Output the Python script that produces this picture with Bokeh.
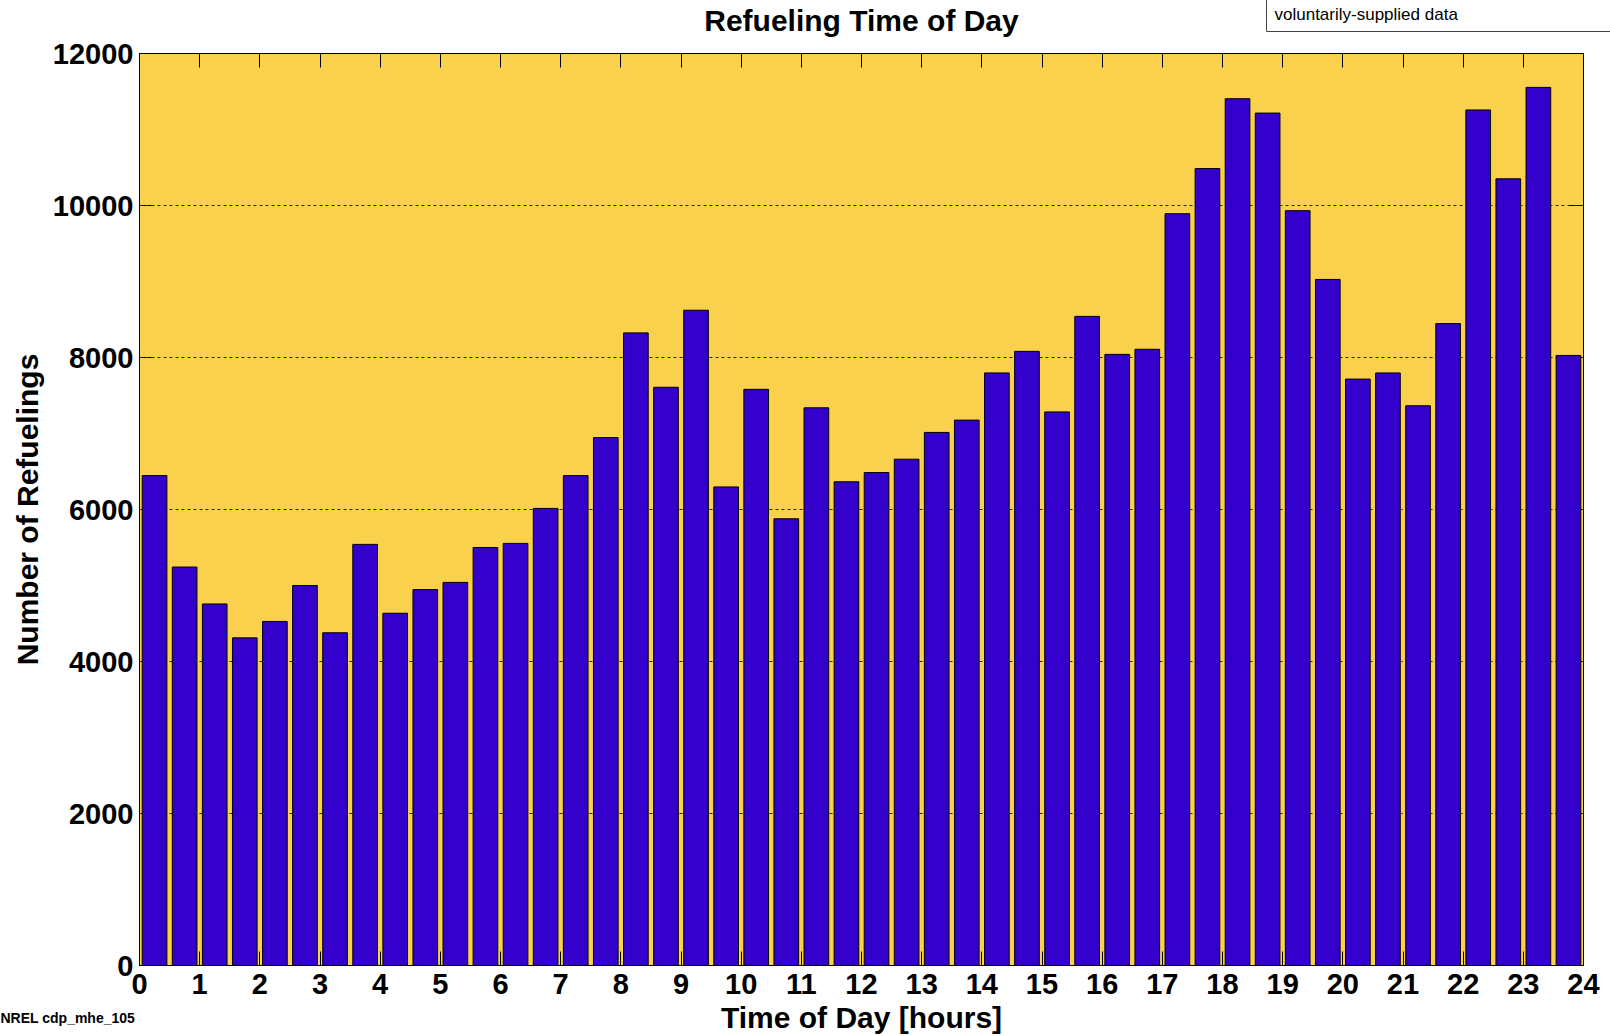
from bokeh.plotting import figure
from bokeh.models import LinearAxis, FixedTicker, Range1d, Title
from bokeh.embed import file_html
from bokeh.resources import INLINE

# ---- data ----
hour_bins = [0.25, 0.75, 1.25, 1.75, 2.25, 2.75, 3.25, 3.75, 4.25, 4.75, 5.25, 5.75,
             6.25, 6.75, 7.25, 7.75, 8.25, 8.75, 9.25, 9.75, 10.25, 10.75, 11.25, 11.75,
             12.25, 12.75, 13.25, 13.75, 14.25, 14.75, 15.25, 15.75, 16.25, 16.75, 17.25, 17.75,
             18.25, 18.75, 19.25, 19.75, 20.25, 20.75, 21.25, 21.75, 22.25, 22.75, 23.25, 23.75]
refuelings = [6446, 5243, 4757, 4311, 4527, 5000, 4378, 5541, 4635, 4946, 5041, 5500,
              5554, 6014, 6446, 6946, 8324, 7608, 8622, 6297, 7581, 5878, 7338, 6365,
              6486, 6662, 7014, 7176, 7797, 8081, 7284, 8541, 8041, 8108, 9892, 10486,
              11405, 11216, 9932, 9027, 7716, 7797, 7365, 8446, 11257, 10351, 11554, 8027]
x_ticks = list(range(0, 25))
y_ticks = [0, 2000, 4000, 6000, 8000, 10000, 12000]
title_text = "Refueling Time of Day"
x_label = "Time of Day [hours]"
y_label = "Number of Refuelings"
note_text = "voluntarily-supplied data"
id_text = "NREL cdp_mhe_105"

FONT = "Liberation Sans"
W, H = 1610, 1036
ML, MR, MT, MB = 139, 27, 53, 71

p = figure(width=W, height=H, x_range=Range1d(0, 24), y_range=Range1d(0, 12000),
           output_backend="svg", toolbar_location=None,
           min_border_left=ML, min_border_right=MR, min_border_top=MT, min_border_bottom=MB,
           background_fill_color="#F9D14C", border_fill_color=None,
           outline_line_color="black", outline_line_width=1,
           x_axis_location=None, y_axis_location=None)

p.xgrid.visible = False
p.ygrid.ticker = FixedTicker(ticks=y_ticks)
p.ygrid.grid_line_color = "#222222"
p.ygrid.grid_line_dash = "3 3"
p.ygrid.grid_line_width = 1

p.vbar(x=hour_bins, top=refuelings, width=0.41, bottom=0,
       fill_color="#3300CC", line_color="black", line_width=1)

def base_axis(ax, tick_in=14):
    ax.major_tick_in = tick_in
    ax.major_tick_out = 0
    ax.minor_tick_line_color = None
    ax.major_tick_line_color = "black"
    ax.axis_line_color = "black"

def labels_on(ax, standoff):
    ax.major_label_text_font = FONT
    ax.major_label_text_font_style = "bold"
    ax.major_label_text_font_size = "29px"
    ax.major_label_text_color = "black"
    ax.major_label_standoff = standoff
    ax.axis_label_text_font = FONT
    ax.axis_label_text_font_style = "bold"
    ax.axis_label_text_font_size = "30px"
    ax.axis_label_text_color = "black"

def labels_off(ax, standoff=0):
    ax.major_label_overrides = {t: " " for t in ax.ticker.ticks}
    ax.major_label_text_font_size = "1px"
    ax.major_label_text_color = None
    ax.major_label_standoff = standoff

# bottom axis: tick labels + x label
xb = LinearAxis(ticker=FixedTicker(ticks=x_ticks), axis_label=x_label)
base_axis(xb)
labels_on(xb, 8)
xb.axis_label_standoff = 4
p.add_layout(xb, "below")

# top axis: mirrored ticks, carries the chart title as its label
xt = LinearAxis(ticker=FixedTicker(ticks=x_ticks), axis_label=title_text)
base_axis(xt)
labels_off(xt)
xt.axis_label_text_font = FONT
xt.axis_label_text_font_style = "bold"
xt.axis_label_text_font_size = "30px"
xt.axis_label_text_color = "black"
xt.axis_label_standoff = 17
p.add_layout(xt, "above")

# left: tick-only axis behind the bars, then labelled axis
yl_ticks = LinearAxis(ticker=FixedTicker(ticks=y_ticks))
base_axis(yl_ticks)
labels_off(yl_ticks, -1)
yl_ticks.level = "underlay"
p.add_layout(yl_ticks, "left")

yl = LinearAxis(ticker=FixedTicker(ticks=y_ticks), axis_label=y_label)
base_axis(yl, tick_in=0)
labels_on(yl, 6)
yl.axis_label_standoff = 6
p.add_layout(yl, "left")

# right: mirrored ticks behind the bars
yr = LinearAxis(ticker=FixedTicker(ticks=y_ticks))
base_axis(yr)
labels_off(yr)
yr.level = "underlay"
p.add_layout(yr, "right")

# id text under the chart, left corner
p.add_layout(Title(text=id_text, align="left", vertical_align="top",
                   standoff=-54, offset=-139,
                   text_font=FONT, text_font_size="14px", text_font_style="bold",
                   text_color="black"), "below")

# note box, top right
p.add_layout(Title(text=note_text, align="left", vertical_align="bottom",
                   standoff=-62, offset=1266 - ML,
                   text_font=FONT, text_font_size="17px", text_font_style="normal",
                   text_color="black",
                   background_fill_color="white", border_line_color="#444444",
                   border_line_width=1,
                   padding=dict(left=8, right=170, top=12, bottom=8)), "above")

open("out.html", "w").write(file_html(p, INLINE))
